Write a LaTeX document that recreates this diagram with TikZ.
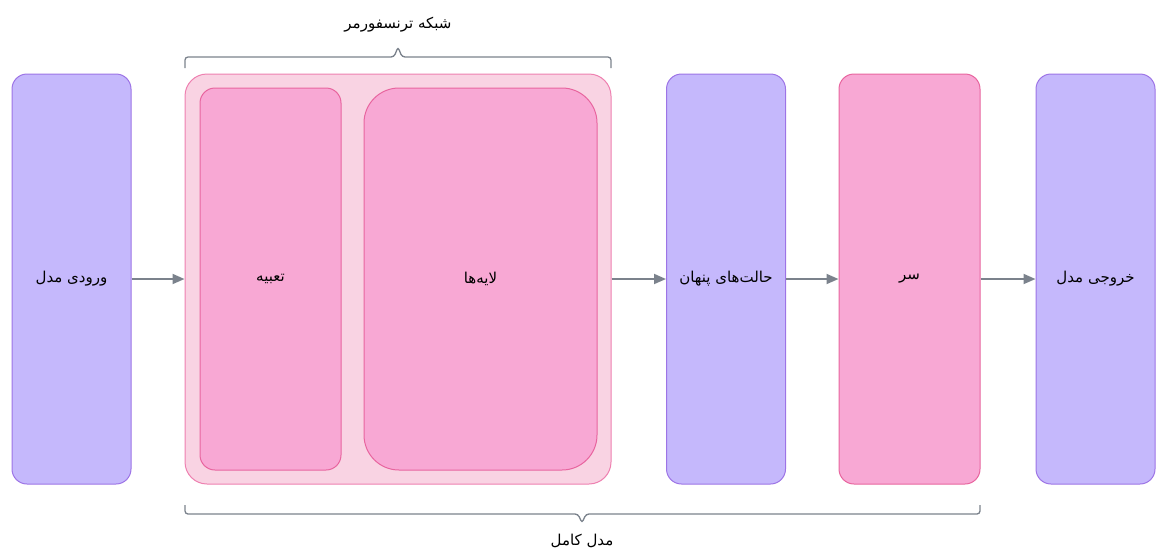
\documentclass[tikz,border=0pt]{standalone}
\usepackage{fontspec}
\newfontfamily\arabicfont[Script=Arabic]{DejaVu Sans}
\TeXXeTstate=1
\usetikzlibrary{arrows.meta}
\definecolor{boxpurple}{HTML}{C5B8FC}
\definecolor{boxpurpleline}{HTML}{9D74E6}
\definecolor{boxpink}{HTML}{F8A8D4}
\definecolor{boxpinkline}{HTML}{E8659F}
\definecolor{grouppink}{HTML}{F9D3E3}
\definecolor{grouppinkline}{HTML}{EE80B0}
\definecolor{linegray}{HTML}{7B828C}
\begin{document}
\begin{tikzpicture}[x=1pt, y=-1pt, font=\arabicfont\fontsize{15}{18}\selectfont,
    purplebox/.style={draw=boxpurpleline, fill=boxpurple, line width=1pt,
        rounded corners=15pt, minimum width=119pt, minimum height=410pt},
    pinkbox/.style={draw=boxpinkline, fill=boxpink, line width=1pt, rounded corners=15pt},
    flow/.style={draw=linegray, line width=1.8pt, -{Triangle[length=12pt,width=10pt]}},
    bracket/.style={draw=linegray, line width=1.3pt, rounded corners=3pt}]
    \useasboundingbox (0,0) rectangle (1163,558);

    % outer group
    \node[draw=grouppinkline, fill=grouppink, line width=1pt, rounded corners=22pt,
          minimum width=426pt, minimum height=410pt] (transformer) at (398,279) {};
    \node[pinkbox, minimum width=141pt, minimum height=382pt] (embed) at (270.5,279) {\beginR تعبیه\endR};
    \node[pinkbox, rounded corners=35pt, minimum width=233pt, minimum height=382pt] (layers) at (480.5,279) {\beginR لایه‌ها\endR};

    % main chain
    \node[purplebox] (input) at (71.5,279) {\beginR ورودی مدل\endR};
    \node[purplebox] (hidden) at (726,279) {\beginR حالت‌های پنهان\endR};
    \node[pinkbox, minimum width=141pt, minimum height=410pt] (head) at (909.5,279) {\beginR سر\endR};
    \node[purplebox] (output) at (1095.5,279) {\beginR خروجی مدل\endR};

    \draw[flow] (input) -- (transformer);
    \draw[flow] (transformer) -- (hidden);
    \draw[flow] (hidden) -- (head);
    \draw[flow] (head) -- (output);

    % braces
    \draw[bracket] (185,68) -- (185,57) -- (394,57) -- (398,47) -- (402,57) -- (611,57) -- (611,68);
    \node (toplabel) at (398,25) {\beginR شبکه ترنسفورمر\endR};
    \draw[bracket] (185,505) -- (185,514) -- (578,514) -- (582,523) -- (586,514) -- (980,514) -- (980,505);
    \node (bottomlabel) at (582,541) {\beginR مدل کامل\endR};
\end{tikzpicture}
\end{document}
